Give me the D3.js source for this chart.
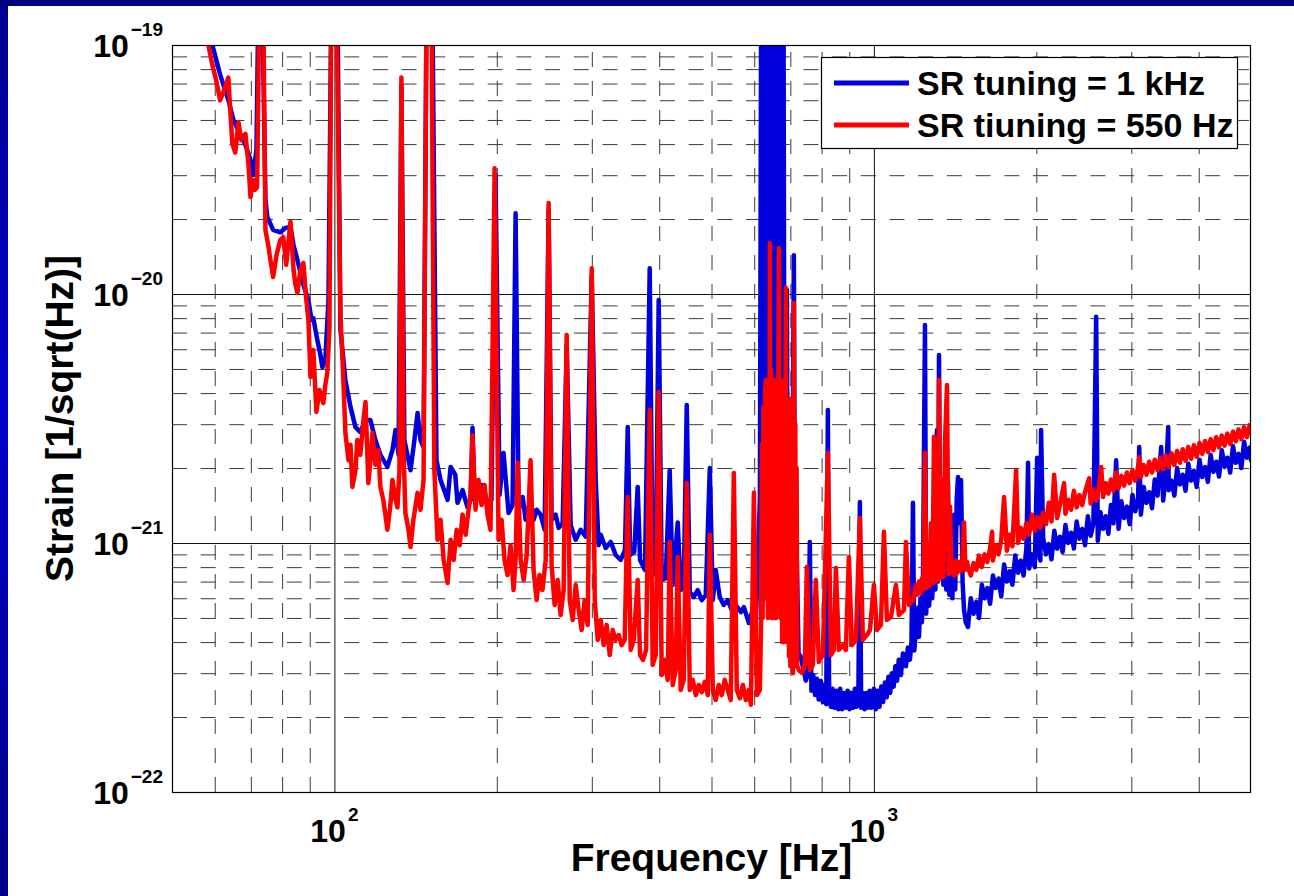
<!DOCTYPE html>
<html><head><meta charset="utf-8">
<script src="https://cdn.jsdelivr.net/npm/d3@7"></script>
<style>
html,body{margin:0;padding:0;background:#fff;}
svg{display:block;font-family:"Liberation Sans",Arial,Helvetica,sans-serif;font-weight:bold;}
</style></head><body><svg id="chart" width="1294" height="896"></svg>
<script>
// ---------- data ----------
const xMajorTicks = [100, 1000];
const xMinorTicks = [60,70,80,90,200,300,400,500,600,700,800,900,2000,3000,4000];
const yMajorTicks = [1e-22, 1e-21, 1e-20, 1e-19];
const yMinorTicks = [2e-22,3e-22,4e-22,5e-22,6e-22,7e-22,8e-22,9e-22,
                     2e-21,3e-21,4e-21,5e-21,6e-21,7e-21,8e-21,9e-21,
                     2e-20,3e-20,4e-20,5e-20,6e-20,7e-20,8e-20,9e-20];
const seriesNames = ["SR tuning = 1 kHz", "SR tiuning = 550 Hz"];
const seriesColors = ["#0000dd", "#ff0000"];
const xTitle = "Frequency [Hz]";
const yTitle = "Strain [1/sqrt(Hz)]";

// [frequency Hz, strain 1/sqrt(Hz)]  -- SR tuning = 1 kHz
const blueData = [
[59.4,1.0e-19],[61.4,7.6e-20],[63.6,6.0e-20],[65.0,5.0e-20],[67.0,4.35e-20],[68.4,3.97e-20],[69.9,3.45e-20],[70.7,3.0e-20],[71.7,3.8e-20],[72.3,1.5e-19],[73.5,1.5e-19],[74.5,2.4e-20],[75.1,2.04e-20],[77.0,1.81e-20],[79.4,1.77e-20],[81.1,1.84e-20],[82.9,1.86e-20],[84.0,1.57e-20],[85.4,1.37e-20],[87.6,1.09e-20],[89.5,9.46e-21],[90.7,7.86e-21],[91.4,8.0e-21],[92.6,6.84e-21],[94.2,5.69e-21],[95.0,5.09e-21],[96.2,5.43e-21],[97.5,9.46e-21],[98.7,1.5e-19],[101.3,1.5e-19],[102.6,7.2e-21],[104.8,4.51e-21],[107.1,3.52e-21],[109.4,2.92e-21],[111.7,2.79e-21],[114.2,3.12e-21],[116.6,3.12e-21],[119.1,2.59e-21],[121.7,2.26e-21],[125.4,2.02e-21],[128.1,2.36e-21],[129.8,2.84e-21],[131.5,2.26e-21],[133.1,6.9e-20],[134.8,2.59e-21],[138.4,1.96e-21],[140.7,2.59e-21],[142.6,3.33e-21],[144.4,2.59e-21],[146.3,2.43e-21],[148.2,1.5e-19],[151.9,1.5e-19],[154.6,2.15e-21],[157.3,1.79e-21],[162.1,1.49e-21],[164.2,2.02e-21],[167.5,1.88e-21],[169.1,1.45e-21],[172.8,1.63e-21],[176.5,1.39e-21],[178.8,1.49e-21],[180.3,2.9e-21],[181.9,1.49e-21],[184.2,1.53e-21],[188.2,1.71e-21],[192.2,1.45e-21],[195.5,1.49e-21],[198.9,3.0e-20],[202.4,1.56e-21],[205.8,2.3e-21],[210.3,1.32e-21],[213.9,1.42e-21],[216.7,2.11e-20],[219.5,1.36e-21],[223.3,1.53e-21],[226.2,1.24e-21],[231.0,1.49e-21],[234.0,1.24e-21],[237.0,1.36e-21],[241.1,1.3e-21],[245.3,1.13e-21],[249.5,2.17e-20],[252.7,1.24e-21],[257.1,1.3e-21],[260.4,1.15e-21],[264.9,1.2e-21],[269.5,6.24e-21],[274.1,1.18e-21],[280.0,1.03e-21],[286.1,1.13e-21],[292.3,1.06e-21],[299.9,1.19e-20],[305.0,1.79e-21],[308.9,9.8e-22],[311.6,1.08e-21],[318.3,9.55e-22],[325.2,1.01e-21],[332.2,8.95e-22],[339.4,8.55e-22],[345.6,9.37e-22],[349.7,2.92e-21],[353.3,8.95e-22],[359.5,9.2e-22],[364.9,1.68e-21],[368.6,8.55e-22],[376.4,7.79e-22],[384.1,1.27e-20],[389.0,7.44e-22],[394.1,8.16e-22],[399.1,9.46e-21],[404.3,7.1e-22],[411.3,7.23e-22],[418.3,1.96e-21],[423.7,6.78e-22],[432.9,1.21e-21],[438.5,6.47e-22],[444.1,6.78e-22],[449.9,3.58e-21],[455.7,6.36e-22],[463.6,6.07e-22],[471.5,6.47e-22],[479.6,5.9e-22],[487.9,6.18e-22],[496.4,2.0e-21],[502.8,5.9e-22],[509.1,7.79e-22],[517.9,6.07e-22],[526.8,5.64e-22],[535.9,5.9e-22],[545.2,5.38e-22],[554.7,5.64e-22],[566.8,5.28e-22],[574.1,5.53e-22],[586.5,4.77e-22],[594.1,5.28e-22],[604.4,4.91e-22],
[614.7,1.49e-21],[618,1.5e-19],[621,2.0e-21],[624,1.5e-19],[627,1.2e-21],[630,1.5e-19],[633,3.0e-21],[636,1.5e-19],[640,1.0e-21],[643,1.5e-19],[646,2.5e-21],[649,1.5e-19],[652,1.5e-21],[655,1.5e-19],[658,1.0e-21],[661,1.5e-19],[665,2.0e-21],[668,1.5e-19],[671,1.2e-21],[674,1.5e-19],[677,3.0e-21],[680,1.5e-19],[683,8.0e-22],[686,5.0e-21],[689.6,1.04e-20],[693,6.0e-22],[698.6,1.49e-21],[704,5.0e-22],[710.6,1.43e-20],[715,4.0e-22],[719.7,8.55e-22],[725,3.6e-22],[732,3.5e-22],
[740,3.1e-22],[748,2.8e-22],[755,3.0e-22],[760.7,1.01e-21],[766,2.55e-22],[772,2.95e-22],[778,2.45e-22],[784,2.85e-22],[790,2.35e-22],[797,2.8e-22],[804,2.3e-22],[810,2.7e-22],[816,2.25e-22],[821.6,3.42e-21],[826,2.6e-22],[832,2.2e-22],[838,2.6e-22],[845,2.18e-22],[852,2.55e-22],[859,2.15e-22],[866,2.6e-22],[873,2.15e-22],[880,2.5e-22],[887,2.18e-22],[894,2.55e-22],[901,2.15e-22],[908,2.5e-22],[915,2.18e-22],[922,2.6e-22],[929,2.2e-22],[936,2.5e-22],[941.9,1.46e-21],[947,2.18e-22],[954,2.5e-22],[961,2.15e-22],[968,2.5e-22],[975,2.18e-22],[982,2.55e-22],[990,2.18e-22],[1000,2.6e-22],[1008,2.15e-22],[1016,2.55e-22],[1024,2.2e-22],[1032,2.65e-22],[1040,2.3e-22],[1048,2.75e-22],[1056,2.4e-22],[1064,2.9e-22],[1072,2.5e-22],[1080,3.0e-22],[1088,2.65e-22],[1096,3.2e-22],[1104,2.8e-22],[1112,3.4e-22],[1122,2.95e-22],[1132,3.6e-22],[1146.6,3.2e-22],[1156,3.8e-22],[1166.3,3.4e-22],[1174,4.0e-22],[1181.3,1.45e-21],[1188,3.7e-22],
[1196.6,4.4e-22],[1205,5.5e-22],[1212,4.2e-22],[1220,6.0e-22],[1227,4.8e-22],[1233,7.0e-22],[1243.5,7.51e-21],[1250,5.2e-22],[1259.6,8.0e-22],[1266,5.6e-22],[1275.9,9.5e-22],[1283,6.0e-22],[1292.3,1.3e-21],[1300,6.5e-22],[1309,2.84e-21],[1315,7.0e-22],[1320.2,5.69e-21],[1327,7.5e-22],[1337,1.2e-21],[1345,6.8e-22],[1354,1.1e-21],[1362,6.5e-22],[1371.9,1.74e-21],[1380,6.2e-22],[1389.7,1.0e-21],[1398,6.0e-22],[1407.6,1.3e-21],[1415,6.5e-22],[1424,1.5e-21],[1431.9,1.84e-21],[1440,1.2e-21],[1450.4,1.79e-21],[1460,7.0e-22],[1469.2,5.4e-22],[1480,4.8e-22],
[1494,4.6e-22],[1512,6.0e-22],[1530,5.2e-22],[1548,5.8e-22],[1566,5.0e-22],[1585,6.8e-22],[1604,6.0e-22],[1623,6.6e-22],[1642,5.7e-22],[1662,7.4e-22],[1682,6.6e-22],[1702,7.2e-22],[1722,6.1e-22],[1743,8.2e-22],[1764,7.0e-22],[1785,7.7e-22],[1806,6.8e-22],[1828,8.9e-22],[1850,7.6e-22],[1872,8.5e-22],[1894,7.4e-22],[1917,9.5e-22],[1931,2.1e-21],[1940,7.9e-22],[1963,9.0e-22],[1987,8.0e-22],[2007,2.2e-21],[2011,9.6e-22],[2035,8.5e-22],[2041,2.84e-21],[2059,1.05e-21],[2084,9.0e-22],[2109,9.9e-22],[2134,8.6e-22],[2160,1.12e-21],[2186,9.5e-22],[2212,1.06e-21],[2238,9.2e-22],[2265,1.18e-21],[2292,1.0e-21],[2320,1.1e-21],[2348,9.5e-22],[2376,1.22e-21],[2404,1.04e-21],[2433,1.14e-21],[2462,9.8e-22],[2492,1.28e-21],[2522,1.07e-21],[2552,1.2e-21],[2582,8.1e-21],[2600,1.02e-21],[2630,1.33e-21],[2660,1.14e-21],[2690,1.28e-21],[2720,1.09e-21],[2750,1.42e-21],[2780,1.2e-21],[2812,2.15e-21],[2841,1.14e-21],[2875,1.47e-21],[2909,1.26e-21],[2944,1.4e-21],[2979,1.19e-21],[3015,1.56e-21],[3051,1.34e-21],[3088,1.5e-21],[3103,2.43e-21],[3125,1.3e-21],[3162,1.68e-21],[3200,1.45e-21],[3238,1.6e-21],[3277,1.38e-21],[3316,1.8e-21],[3356,1.55e-21],[3408,2.43e-21],[3437,1.48e-21],[3478,1.9e-21],[3512,2.92e-21],[3520,1.63e-21],[3562,1.78e-21],[3605,1.55e-21],[3648,2.0e-21],[3692,1.72e-21],[3736,1.88e-21],[3781,1.62e-21],[3826,2.08e-21],[3872,1.78e-21],[3918,1.95e-21],[3965,1.68e-21],[4013,2.16e-21],[4061,1.84e-21],[4110,2.02e-21],[4159,1.76e-21],[4209,2.26e-21],[4259,1.93e-21],[4310,2.12e-21],[4362,1.85e-21],[4414,2.36e-21],[4467,2.02e-21],[4520,2.2e-21],[4575,1.92e-21],[4630,2.45e-21],[4685,2.1e-21],[4741,2.28e-21],[4798,2.0e-21],[4855,2.55e-21],[4913,2.2e-21],[4972,2.42e-21],[5000,2.15e-21]
];

// SR tiuning = 550 Hz
const redData = [
[58.4,1.0e-19],[59.4,8.3e-20],[60.4,7.2e-20],[61.4,6.0e-20],[62.5,6.6e-20],[63.6,7.4e-20],[64.1,5.5e-20],[64.7,4.0e-20],[65.5,3.7e-20],[66.4,4.9e-20],[67.2,4.15e-20],[68.4,4.4e-20],[69.3,3.3e-20],[69.9,2.45e-20],[70.7,2.87e-20],[71.3,2.62e-20],[71.9,2.69e-20],[72.6,1.5e-19],[73.8,1.5e-19],[74.5,1.81e-20],[75.4,1.57e-20],[76.1,1.37e-20],[77.0,1.17e-20],[78.1,1.43e-20],[79.4,1.65e-20],[80.4,1.69e-20],[81.4,1.31e-20],[82.9,1.95e-20],[84.0,1.25e-20],[84.7,1.09e-20],[85.4,1.01e-20],[86.5,1.25e-20],[87.6,1.33e-20],[88.7,9.46e-21],[89.5,7.86e-21],[90.3,4.64e-21],[91.4,5.96e-21],[92.6,3.36e-21],[93.8,4.12e-21],[95.4,3.65e-21],[96.2,4.31e-21],[97.0,4.82e-21],[97.9,7.17e-21],[98.7,1.5e-19],[100.9,1.5e-19],[102.6,8.39e-21],[103.9,4.51e-21],[104.8,2.77e-21],[106.2,2.15e-21],[107.1,2.48e-21],[108.0,1.68e-21],[109.4,1.96e-21],[110.3,2.59e-21],[111.7,2.26e-21],[113.2,3.12e-21],[114.2,3.68e-21],[115.6,1.74e-21],[116.6,2.15e-21],[117.6,2.77e-21],[119.1,2.06e-21],[120.6,2.36e-21],[121.7,1.68e-21],[123.2,1.49e-21],[125.4,1.13e-21],[127.0,1.42e-21],[128.1,1.79e-21],[129.8,1.49e-21],[130.9,1.39e-21],[132.0,1.96e-21],[133.1,7.4e-20],[134.3,2.36e-21],[135.4,1.32e-21],[137.2,1.13e-21],[138.4,9.64e-22],[140.1,1.24e-21],[142.6,1.59e-21],[144.4,1.36e-21],[146.3,1.79e-21],[148.2,1.5e-19],[151.3,1.5e-19],[153.2,1.96e-21],[155.3,1.03e-21],[157.3,1.24e-21],[159.4,8.55e-22],[162.1,6.91e-22],[164.2,1.03e-21],[166.4,8.55e-22],[168.5,1.13e-21],[170.7,9.8e-22],[172.8,1.3e-21],[175.1,1.08e-21],[177.3,1.36e-21],[178.8,1.56e-21],[180.3,2.71e-21],[182.6,1.36e-21],[185.0,1.79e-21],[187.4,1.42e-21],[189.8,1.71e-21],[192.2,1.3e-21],[194.7,1.13e-21],[198.1,3.2e-20],[201.5,1.03e-21],[204.1,1.24e-21],[206.7,8.55e-22],[209.4,7.44e-22],[212.1,9.8e-22],[214.8,6.47e-22],[216.7,8.55e-22],[218.6,2.1e-21],[221.4,8.55e-22],[224.3,7.1e-22],[227.2,8.95e-22],[231.0,2.15e-21],[234.0,7.79e-22],[237.0,5.9e-22],[240.0,7.44e-22],[243.0,6.47e-22],[246.4,8.55e-22],[249.5,2.32e-20],[252.7,8.16e-22],[256.0,5.64e-22],[259.3,7.1e-22],[262.6,5.14e-22],[266.0,6.47e-22],[269.5,6.84e-21],[273.0,5.9e-22],[276.5,4.91e-22],[280.0,6.78e-22],[283.7,5.38e-22],[287.3,4.47e-22],[291.0,5.9e-22],[294.8,4.69e-22],[299.9,1.27e-20],[303.8,5.9e-22],[307.7,4.08e-22],[311.6,4.91e-22],[315.6,3.89e-22],[319.7,4.69e-22],[323.8,3.55e-22],[328.0,4.47e-22],[332.2,4.08e-22],[336.5,4.27e-22],[340.8,3.89e-22],[345.2,4.08e-22],[349.7,1.53e-21],[354.2,3.72e-22],[358.8,4.08e-22],[364.9,7.1e-22],[368.6,3.55e-22],[373.4,3.39e-22],[378.2,3.72e-22],[384.1,3.42e-21],[389.0,3.24e-22],[394.1,3.55e-22],[399.1,4.04e-21],[404.3,2.95e-22],[409.5,3.39e-22],[414.8,2.82e-22],[418.3,1.01e-21],[423.7,2.69e-22],[429.2,3.09e-22],[432.9,8.79e-22],[438.5,2.57e-22],[444.1,2.82e-22],[449.9,1.74e-21],[455.7,2.57e-22],[461.6,2.82e-22],[467.6,2.45e-22],[473.6,2.69e-22],[479.6,2.52e-22],[485.8,2.77e-22],[492.1,2.45e-22],[496.4,1.08e-21],[502.8,2.57e-22],[509.1,2.34e-22],[515.7,2.69e-22],[522.3,2.45e-22],[529.0,2.82e-22],[535.9,2.57e-22],[542.9,2.34e-22],[550.0,1.91e-21],[557.0,2.57e-22],[564.3,2.38e-22],[571.6,2.69e-22],[579.0,2.34e-22],[586.5,2.57e-22],[591.6,2.24e-22],[599.2,1.59e-21],[607.1,2.45e-22],
[614.7,2.57e-22],[618,5.0e-22],[620,2.5e-21],[622,5.0e-22],[624,3.5e-21],[626,6.0e-22],[628,4.0e-21],[630.6,4.51e-21],[632,7.0e-22],[634,3.8e-21],[636,5.0e-22],[638,4.2e-21],[640,6.0e-22],[641.5,1.6e-20],[643,8.0e-22],[645,5.0e-21],[647,5.0e-22],[649,4.0e-21],[651,6.0e-22],[653,3.6e-21],[655,5.0e-22],[657,4.5e-21],[659,5.0e-22],[661,3.8e-21],[663,6.0e-22],[665,4.2e-21],[666.7,1.53e-20],[668,6.0e-22],[670,4.0e-21],[672,5.0e-22],[674,4.5e-21],[676,4.0e-22],[678,3.6e-21],[680,4.0e-22],[682,3.8e-21],[684,5.0e-22],[686.7,1.06e-20],[688,4.0e-22],[690,3.6e-21],[692,4.0e-22],[694,3.5e-21],[696,3.5e-22],[698,3.8e-21],[700,3.2e-22],[702,3.5e-21],[704,4.0e-22],[706,3.6e-21],[708,3.0e-22],[710.6,9.2e-21],[713,3.2e-22],[715,3.0e-21],[717,3.5e-22],[719,2.0e-21],[721,3.2e-22],[725.8,3.09e-22],
[735.2,3.01e-22],[744.7,3.24e-22],[751.1,8.01e-22],[760.7,3.09e-22],[770.6,3.24e-22],[780.5,7.1e-22],[790.6,3.33e-22],[804.3,3.55e-22],[821.6,2.3e-21],[832.2,3.55e-22],[843.0,3.72e-22],[850.2,7.94e-22],[861.2,3.72e-22],[876.0,3.89e-22],[887.4,3.72e-22],[898.7,8.79e-22],[910.3,3.89e-22],[926.0,4.08e-22],[941.9,1.26e-21],[954.1,4.08e-22],[970.6,4.27e-22],[983.1,4.47e-22],[1000,6.78e-22],[1012.9,4.47e-22],[1030.4,4.69e-22],[1043.7,1.11e-21],[1057.2,4.91e-22],[1075.4,5.05e-22],[1098.6,6.78e-22],[1112.8,5.14e-22],[1136.9,5.38e-22],[1146.6,1.01e-21],[1161.3,5.64e-22],[1181.3,5.9e-22],
[1196.6,6.78e-22],[1204,6.2e-22],[1212.1,7.0e-22],[1220,6.3e-22],[1227.7,7.2e-22],[1235,6.5e-22],[1243.5,2.3e-21],[1251,6.6e-22],[1259.6,7.4e-22],[1267,6.7e-22],[1275.9,1.2e-21],[1284,6.9e-22],[1292.3,2.67e-21],[1300,7.0e-22],[1309,1.5e-21],[1315,7.1e-22],[1320.2,4.51e-21],[1328,7.2e-22],[1337.2,1.8e-21],[1345,7.3e-22],[1355,2.6e-21],[1366,4.31e-21],[1375,7.5e-22],[1383.7,1.4e-21],[1392,7.6e-22],[1401.5,8.2e-22],[1410,7.4e-22],[1419.6,8.5e-22],[1428,7.6e-22],[1438,8.4e-22],[1450,7.7e-22],[1459,8.6e-22],[1469.2,1.21e-21],[1478,7.8e-22],[1488.1,8.4e-22],
[1494,8.0e-22],[1512,7.4e-22],[1530,8.3e-22],[1548,7.8e-22],[1566,8.9e-22],[1585,8.0e-22],[1604,9.0e-22],[1623,8.4e-22],[1642,9.5e-22],[1656,1.11e-21],[1662,8.5e-22],[1682,9.8e-22],[1702,9.0e-22],[1722,1.03e-21],[1743,1.53e-21],[1764,9.3e-22],[1785,1.08e-21],[1806,9.7e-22],[1835,1.96e-21],[1850,1.0e-21],[1872,1.15e-21],[1894,1.04e-21],[1917,1.2e-21],[1940,1.08e-21],[1963,1.3e-21],[1987,1.12e-21],[2011,1.27e-21],[2035,1.15e-21],[2059,1.32e-21],[2084,1.19e-21],[2109,1.45e-21],[2134,1.22e-21],[2158,1.88e-21],[2186,1.26e-21],[2212,1.42e-21],[2252,1.74e-21],[2265,1.31e-21],[2292,1.49e-21],[2320,1.36e-21],[2348,1.62e-21],[2376,1.39e-21],[2404,1.56e-21],[2433,1.42e-21],[2462,1.6e-21],[2506,1.82e-21],[2522,1.44e-21],[2552,1.64e-21],[2583,1.48e-21],[2614,1.68e-21],[2638,2.02e-21],[2660,1.53e-21],[2690,1.74e-21],[2720,1.58e-21],[2750,1.8e-21],[2780,1.62e-21],[2812,1.92e-21],[2841,1.66e-21],[2875,1.86e-21],[2909,1.7e-21],[2944,1.92e-21],[2979,1.74e-21],[3015,1.96e-21],[3051,1.78e-21],[3088,2.02e-21],[3103,2.21e-21],[3125,1.84e-21],[3162,2.06e-21],[3200,1.88e-21],[3238,2.12e-21],[3277,1.92e-21],[3316,2.16e-21],[3356,1.96e-21],[3396,2.2e-21],[3437,1.98e-21],[3478,2.24e-21],[3520,2.02e-21],[3562,2.29e-21],[3605,2.06e-21],[3648,2.34e-21],[3692,2.1e-21],[3736,2.38e-21],[3781,2.14e-21],[3826,2.43e-21],[3872,2.18e-21],[3918,2.47e-21],[3965,2.22e-21],[4013,2.52e-21],[4061,2.28e-21],[4110,2.57e-21],[4159,2.32e-21],[4209,2.61e-21],[4259,2.36e-21],[4310,2.66e-21],[4362,2.42e-21],[4414,2.7e-21],[4467,2.46e-21],[4520,2.75e-21],[4575,2.5e-21],[4630,2.8e-21],[4685,2.56e-21],[4741,2.86e-21],[4798,2.61e-21],[4855,2.92e-21],[4913,2.66e-21],[4972,2.98e-21],[5000,2.8e-21]
];

// ---------- drawing ----------
const W = 1294, H = 896;
const m = {l:172, r:1251, t:45, b:792};
const svg = d3.select("#chart");

const defs = svg.append("defs");
const grad = defs.append("linearGradient").attr("id","leftGrad").attr("x1",0).attr("y1",0).attr("x2",0).attr("y2",1);
grad.append("stop").attr("offset","0%").attr("stop-color","#00008e");
grad.append("stop").attr("offset","45%").attr("stop-color","#0000cc");
grad.append("stop").attr("offset","100%").attr("stop-color","#000088");
defs.append("clipPath").attr("id","plotClip").append("rect")
  .attr("x",m.l).attr("y",m.t).attr("width",m.r-m.l).attr("height",m.b-m.t);

svg.append("rect").attr("width",W).attr("height",H).attr("fill","#fff");
svg.append("rect").attr("x",0).attr("y",0).attr("width",8).attr("height",H).attr("fill","url(#leftGrad)");
svg.append("rect").attr("x",0).attr("y",0).attr("width",W).attr("height",6).attr("fill","#000080");

const x = d3.scaleLog().domain([50,5000]).range([m.l,m.r]);
const y = d3.scaleLog().domain([1e-22,1e-19]).range([m.b,m.t]);

// minor grid (dashed)
const gxm = svg.append("g").attr("transform",`translate(0,${m.b})`)
  .call(d3.axisBottom(x).tickValues(xMinorTicks).tickSize(-(m.b-m.t)).tickFormat(""));
gxm.select(".domain").remove();
gxm.selectAll("line").attr("stroke","#3a3a3a").attr("stroke-width",1).attr("stroke-dasharray","15,14");
const gym = svg.append("g").attr("transform",`translate(${m.l},0)`)
  .call(d3.axisLeft(y).tickValues(yMinorTicks).tickSize(-(m.r-m.l)).tickFormat(""));
gym.select(".domain").remove();
gym.selectAll("line").attr("stroke","#3a3a3a").attr("stroke-width",1).attr("stroke-dasharray","15,13.7");

// major grid (solid)
const gxM = svg.append("g").attr("transform",`translate(0,${m.b})`)
  .call(d3.axisBottom(x).tickValues(xMajorTicks).tickSize(-(m.b-m.t)).tickFormat(""));
gxM.select(".domain").remove();
gxM.selectAll("line").attr("stroke","#111").attr("stroke-width",1);
const gyM = svg.append("g").attr("transform",`translate(${m.l},0)`)
  .call(d3.axisLeft(y).tickValues(yMajorTicks).tickSize(-(m.r-m.l)).tickFormat(""));
gyM.select(".domain").remove();
gyM.selectAll("line").attr("stroke","#111").attr("stroke-width",1);

// data lines
const line = d3.line().x(d=>x(d[0])).y(d=>y(d[1]));
const plot = svg.append("g").attr("clip-path","url(#plotClip)");
[blueData, redData].forEach((data,i)=>{
  plot.append("path").datum(data).attr("d",line).attr("fill","none")
    .attr("stroke",seriesColors[i]).attr("stroke-width",4.5)
    .attr("stroke-linejoin","round").attr("stroke-linecap","round");
});

// axes box
svg.append("rect").attr("x",m.l+0.5).attr("y",m.t+0.5).attr("width",m.r-m.l-1).attr("height",m.b-m.t)
  .attr("fill","none").attr("stroke","#000").attr("stroke-width",1.2);

// tick labels
yMajorTicks.forEach(v=>{
  const e = Math.round(Math.log10(v));
  const t = svg.append("text").attr("x",163).attr("y",y(v)+12).attr("text-anchor","end")
    .attr("font-size",32).attr("fill","#000");
  t.append("tspan").text("10");
  t.append("tspan").attr("dx",2).attr("dy",-21).attr("font-size",19).text("\u2212"+Math.abs(e));
});
xMajorTicks.forEach(v=>{
  const e = Math.round(Math.log10(v));
  const t = svg.append("text").attr("x",x(v)).attr("y",842).attr("text-anchor","middle")
    .attr("font-size",32).attr("fill","#000");
  t.append("tspan").text("10");
  t.append("tspan").attr("dx",2).attr("dy",-21).attr("font-size",19).text(String(e));
});

// axis titles
svg.append("text").attr("x",(m.l+m.r)/2).attr("y",871).attr("text-anchor","middle")
  .attr("font-size",39).attr("fill","#000").text(xTitle);
svg.append("text").attr("transform",`translate(73,${(m.t+m.b)/2}) rotate(-90)`).attr("text-anchor","middle")
  .attr("font-size",39).attr("fill","#000").text(yTitle);

// legend
const lg = svg.append("g");
lg.append("rect").attr("x",821.5).attr("y",57.5).attr("width",416).attr("height",91)
  .attr("fill","#fff").attr("stroke","#000").attr("stroke-width",1.2);
seriesNames.forEach((name,i)=>{
  const yy = 83 + i*42;
  lg.append("line").attr("x1",834).attr("x2",909).attr("y1",yy).attr("y2",yy)
    .attr("stroke",seriesColors[i]).attr("stroke-width",5);
  lg.append("text").attr("x",917).attr("y",yy+12).attr("font-size",34).attr("fill","#000").text(name);
});
</script></body></html>
